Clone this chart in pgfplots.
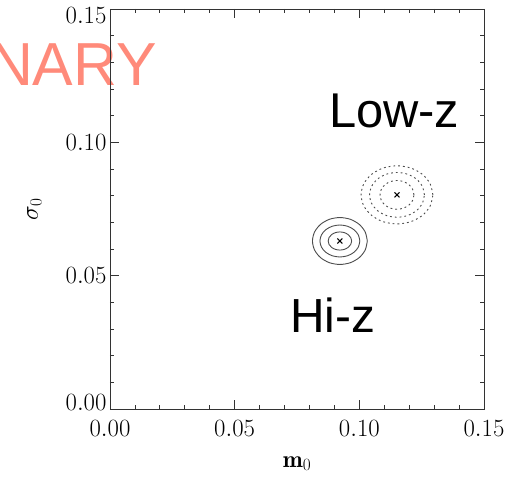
\documentclass[border=0pt]{standalone}
\usepackage{pgfplots}
\pgfplotsset{compat=1.18}
\usepackage{fontspec}
\newfontfamily\arial{Liberation Sans}
\definecolor{prelim}{RGB}{255,138,122}

\begin{document}
\begin{tikzpicture}
\useasboundingbox (-110bp,-72bp) rectangle (403bp,409bp);
% watermark, cut by the page edge
\node[anchor=base east, inner sep=0, text=prelim, font=\arial\fontsize{61}{61}\selectfont] at (47bp,323bp) {PRELIMINARY};
\begin{axis}[
  width=374bp, height=400bp, scale only axis,
  xmin=0, xmax=0.15, ymin=0, ymax=0.15,
  xtick={0,0.05,0.1,0.15}, ytick={0,0.05,0.1,0.15},
  minor tick num=4,
  tick align=inside,
  major tick length=9bp, minor tick length=4.5bp,
  every tick/.style={black!80, line width=0.8bp},
  axis line style={black!80, line width=0.8bp},
  scaled ticks=false,
  /pgf/number format/.cd, fixed, fixed zerofill, precision=2, /pgfplots/.cd,
  tick label style={font=\fontsize{28}{32}\selectfont},
  xticklabel style={yshift=-8bp},
  % end labels sit a little inside the axis, as in the original
  yticklabel={\ifcase\ticknum
      \raisebox{6.5bp}[\height][\depth]{$\pgfmathprintnumber{\tick}$}\or
      $\pgfmathprintnumber{\tick}$\or
      $\pgfmathprintnumber{\tick}$\or
      \raisebox{-6.5bp}[\height][\depth]{$\pgfmathprintnumber{\tick}$}\fi},
  xlabel={$\mathbf{m}_0$},
  ylabel={$\sigma_0$},
  xlabel style={font=\fontsize{24}{28}\selectfont, at={(axis description cs:0.5,0)}, anchor=base, yshift=-58bp},
  ylabel style={font=\fontsize{24}{28}\selectfont, at={(axis description cs:0,0.5)}, anchor=base, yshift=72bp},
]
% Hi-z contours (solid)
\addplot[black!70, line width=0.9bp, smooth] coordinates {
 (0.1032,0.0630) (0.10236,0.06637) (0.09998,0.06922) (0.09641,0.07113) (0.0922,0.0718)
 (0.08799,0.07113) (0.08442,0.06922) (0.08204,0.06637) (0.0812,0.0630) (0.08204,0.05963)
 (0.08442,0.05678) (0.08799,0.05487) (0.0922,0.0542) (0.09641,0.05487) (0.09998,0.05678)
 (0.10236,0.05963) (0.1032,0.0630)};
\addplot[black!70, line width=0.9bp, smooth] coordinates {
 (0.1002,0.0630) (0.09959,0.0653) (0.09786,0.06724) (0.09526,0.06854) (0.0922,0.0690)
 (0.08914,0.06854) (0.08654,0.06724) (0.08481,0.0653) (0.0842,0.0630) (0.08481,0.0607)
 (0.08654,0.05876) (0.08914,0.05746) (0.0922,0.0570) (0.09526,0.05746) (0.09786,0.05876)
 (0.09959,0.0607) (0.1002,0.0630)};
\addplot[black!70, line width=0.9bp, smooth] coordinates {
 (0.0969,0.0630) (0.09654,0.0643) (0.09552,0.0654) (0.0940,0.06614) (0.0922,0.0664)
 (0.0904,0.06614) (0.08888,0.0654) (0.08786,0.0643) (0.0875,0.0630) (0.08786,0.0617)
 (0.08888,0.0606) (0.0904,0.05986) (0.0922,0.0596) (0.0940,0.05986) (0.09552,0.0606)
 (0.09654,0.0617) (0.0969,0.0630)};
% Low-z contours (dashed)
\addplot[black!70, line width=0.9bp, smooth, dash pattern=on 1.8bp off 3bp] coordinates {
 (0.1295,0.0803) (0.1284,0.08447) (0.12528,0.08801) (0.12061,0.09037) (0.1151,0.0912)
 (0.10959,0.09037) (0.10492,0.08801) (0.1018,0.08447) (0.1007,0.0803) (0.1018,0.07613)
 (0.10492,0.07259) (0.10959,0.07023) (0.1151,0.0694) (0.12061,0.07023) (0.12528,0.07259)
 (0.1284,0.07613) (0.1295,0.0803)};
\addplot[black!70, line width=0.9bp, smooth, dash pattern=on 1.8bp off 3bp] coordinates {
 (0.1261,0.0803) (0.12526,0.08351) (0.12288,0.08624) (0.11931,0.08806) (0.1151,0.0887)
 (0.11089,0.08806) (0.10732,0.08624) (0.10494,0.08351) (0.1041,0.0803) (0.10494,0.07709)
 (0.10732,0.07436) (0.11089,0.07254) (0.1151,0.0719) (0.11931,0.07254) (0.12288,0.07436)
 (0.12526,0.07709) (0.1261,0.0803)};
\addplot[black!70, line width=0.9bp, smooth, dash pattern=on 1.8bp off 3bp] coordinates {
 (0.1219,0.0803) (0.12138,0.08237) (0.11991,0.08412) (0.1177,0.08529) (0.1151,0.0857)
 (0.1125,0.08529) (0.11029,0.08412) (0.10882,0.08237) (0.1083,0.0803) (0.10882,0.07823)
 (0.11029,0.07648) (0.1125,0.07531) (0.1151,0.0749) (0.1177,0.07531) (0.11991,0.07648)
 (0.12138,0.07823) (0.1219,0.0803)};
% best-fit points
\addplot[only marks, mark=x, mark size=3.5bp, black, line width=1bp] coordinates {
 (0.0922,0.0630) (0.1151,0.0803)};
\node[anchor=base west, inner sep=0, font=\arial\fontsize{49}{49}\selectfont] at (axis cs:0.0878,0.1054) {Low-z};
\node[anchor=base west, inner sep=0, font=\arial\fontsize{48}{48}\selectfont] at (axis cs:0.0722,0.0285) {Hi-z};
\end{axis}
\end{tikzpicture}
\end{document}
